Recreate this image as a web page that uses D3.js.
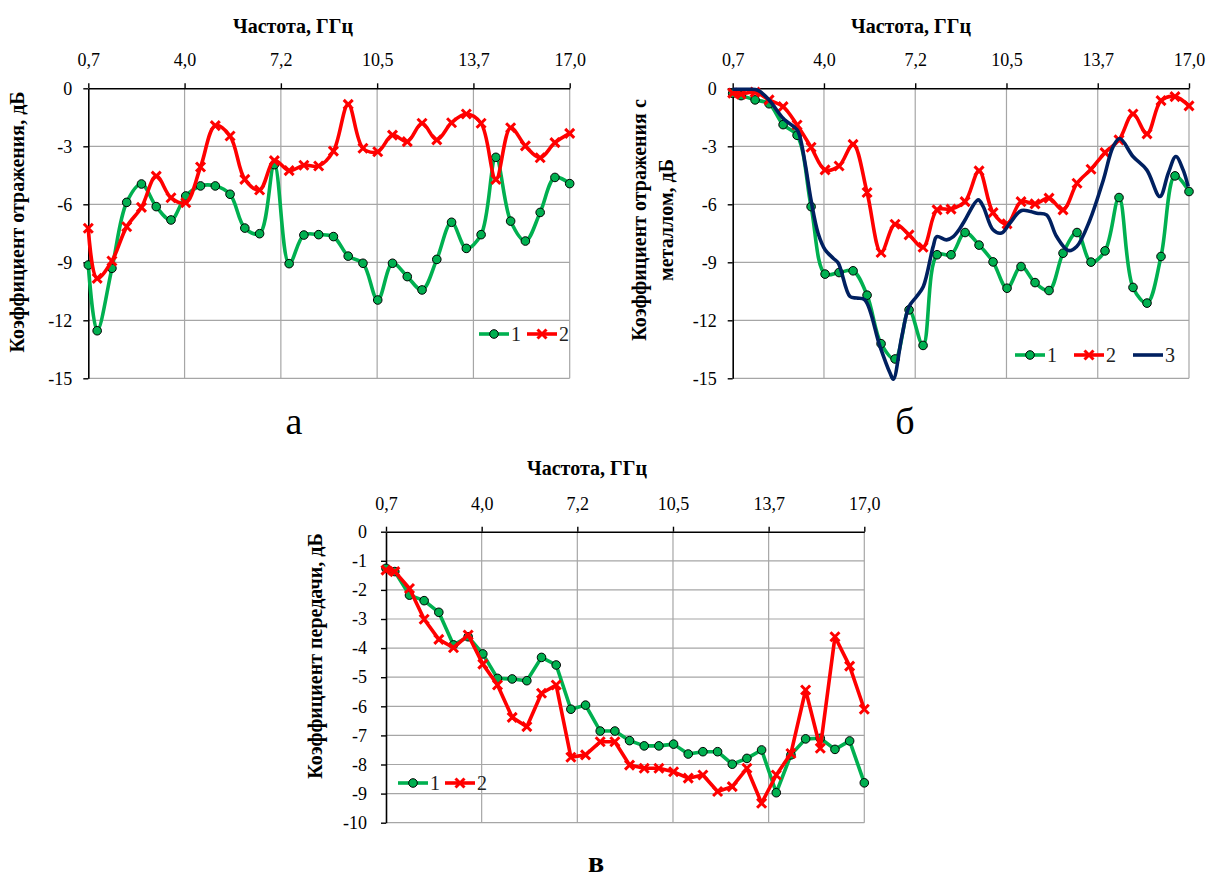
<!DOCTYPE html>
<html><head><meta charset="utf-8">
<script src="https://cdn.jsdelivr.net/npm/d3@7"></script>
<style>
html,body{margin:0;padding:0;background:#fff;}
svg text{font-family:"Liberation Serif","Tinos","DejaVu Serif","Noto Serif","Times New Roman",serif;fill:#000;}
</style></head>
<body><svg id="c" width="1209" height="879"></svg>
<script>
// ---- data ----
const xTickValues = [0.7, 3.96, 7.22, 10.48, 13.74, 17.0];
const xTitle = "Частота, ГГц";
const freq = [0.7,1.0,1.5,2.0,2.5,3.0,3.5,4.0,4.5,5.0,5.5,6.0,6.5,7.0,7.5,8.0,8.5,9.0,9.5,10.0,10.5,11.0,11.5,12.0,12.5,13.0,13.5,14.0,14.5,15.0,15.5,16.0,16.5,17.0];

// panel а
const a1 = [-9.14,-12.54,-9.31,-5.90,-4.95,-6.12,-6.81,-5.57,-5.05,-5.05,-5.48,-7.23,-7.52,-3.95,-9.07,-7.59,-7.57,-7.67,
            -8.68,-9.05,-10.95,-9.05,-9.74,-10.43,-8.85,-6.93,-8.28,-7.57,-3.57,-6.87,-7.90,-6.42,-4.61,-4.93];
const a2 = [-7.24,-9.83,-8.93,-7.16,-6.16,-4.54,-5.66,-5.92,-4.07,-1.93,-2.47,-4.71,-5.26,-3.74,-4.26,-3.98,-4.02,-3.25,
            -0.83,-3.10,-3.28,-2.42,-2.76,-1.81,-2.67,-1.78,-1.33,-1.81,-4.71,-2.04,-2.98,-3.59,-2.81,-2.33];
const aYTicks = [0,-3,-6,-9,-12,-15];

// panel б
const b1 = [-0.26,-0.38,-0.60,-0.80,-1.88,-2.43,-6.12,-9.61,-9.53,-9.44,-10.70,-13.21,-14.0,-11.46,-13.30,-8.61,-8.61,
            -7.46,-8.11,-8.98,-10.34,-9.22,-10.05,-10.46,-8.53,-7.46,-8.99,-8.41,-5.65,-10.30,-11.11,-8.70,-4.53,-5.34];
const b2 = [-0.25,-0.30,-0.20,-0.60,-0.95,-1.90,-3.05,-4.22,-4.02,-2.90,-5.39,-8.49,-7.03,-7.58,-8.22,-6.29,-6.25,
            -5.86,-4.27,-6.43,-7.01,-5.86,-5.98,-5.68,-6.29,-4.91,-4.19,-3.33,-2.67,-1.33,-2.36,-0.64,-0.43,-0.91];
const b3freq = [0.7,1.0,1.3,1.6,2.0,2.5,3.0,3.1,3.3,3.5,3.75,4.0,4.29,4.47,4.89,5.13,5.42,5.96,6.32,6.44,6.74,7.0,7.27,7.51,7.86,7.99,8.34,8.58,8.82,
                9.0,9.47,9.65,10.0,10.3,10.6,11.02,11.56,11.91,12.27,12.69,12.99,13.46,13.94,14.29,14.53,15.0,15.49,15.96,16.26,16.53,16.79,16.97];
const b3 = [-0.05,-0.05,-0.05,-0.1,-0.6,-1.55,-2.15,-2.5,-4.0,-5.8,-7.5,-8.35,-8.79,-9.04,-10.77,-10.85,-10.94,-13.35,-14.73,-15.05,-12.84,-11.29,-10.77,-10.25,-8.19,-7.67,-7.84,-7.67,-7.24,
            -6.81,-5.77,-6.12,-7.32,-7.49,-6.98,-6.32,-6.46,-6.55,-7.67,-8.39,-8.18,-6.81,-4.74,-3.02,-2.60,-3.53,-4.22,-5.60,-4.39,-3.53,-4.22,-5.08];
const bYTicks = [0,-3,-6,-9,-12,-15];

// panel в
const c1 = [-1.26,-1.37,-2.18,-2.37,-2.77,-3.89,-3.61,-4.20,-5.04,-5.06,-5.12,-4.32,-4.58,-6.10,-5.96,-6.85,-6.85,-7.18,
            -7.36,-7.36,-7.30,-7.64,-7.56,-7.56,-7.99,-7.79,-7.50,-8.97,-7.67,-7.12,-7.10,-7.48,-7.19,-8.63];
const c2 = [-1.32,-1.37,-1.95,-3.01,-3.70,-3.99,-3.55,-4.55,-5.27,-6.38,-6.70,-5.55,-5.27,-7.75,-7.67,-7.22,-7.22,-8.02,
            -8.13,-8.13,-8.25,-8.47,-8.36,-8.93,-8.76,-8.13,-9.33,-8.36,-7.62,-5.44,-7.44,-3.61,-4.62,-6.10];
const cYTicks = [0,-1,-2,-3,-4,-5,-6,-7,-8,-9,-10];

const seriesNames = ["1","2","3"];
const panelLabels = ["а","б","в"];
const yTitleA = ["Коэффициент отражения, дБ"];
const yTitleB = ["Коэффициент отражения с","металлом, дБ"];
const yTitleC = ["Коэффициент передачи, дБ"];

// ---- styles ----
const GREEN = "#00B050", RED = "#FF0000", BLUE = "#002060", GRID = "#A6A6A6";
const svg = d3.select("#c");
const fmt = d => d.toFixed(1).replace(".", ",");

function drawPanel(cfg) {
  const g = svg.append("g");
  const x = d3.scaleLinear().domain([0.7, 17.0]).range([cfg.left, cfg.right]);
  const y = d3.scaleLinear().domain([cfg.yTicks[cfg.yTicks.length-1], 0]).range([cfg.bottom, cfg.top]);

  // grid
  g.append("g").selectAll("line").data(cfg.yTicks.filter(v => v !== 0)).join("line")
    .attr("x1", cfg.left).attr("x2", cfg.right).attr("y1", d => y(d)).attr("y2", d => y(d))
    .attr("stroke", GRID).attr("stroke-width", 1.2);
  g.append("g").selectAll("line").data(xTickValues.slice(1)).join("line")
    .attr("x1", d => x(d)).attr("x2", d => x(d)).attr("y1", cfg.top).attr("y2", cfg.bottom)
    .attr("stroke", GRID).attr("stroke-width", 1.2);

  // axes
  const xAxis = d3.axisTop(x).tickValues(xTickValues).tickFormat(fmt).tickSizeInner(5).tickSizeOuter(0).tickPadding(17);
  const xg = g.append("g").attr("transform", `translate(0,${cfg.top})`).call(xAxis);
  const yAxis = d3.axisLeft(y).tickValues(cfg.yTicks).tickFormat(d => d === 0 ? "0" : "-" + Math.abs(d)).tickSizeInner(5).tickSizeOuter(0).tickPadding(cfg.yPad);
  const yg = g.append("g").attr("transform", `translate(${cfg.left},0)`).call(yAxis);
  [xg, yg].forEach(a => {
    a.attr("font-family", null);
    a.select(".domain").attr("stroke", "#000").attr("stroke-width", 1.6);
    a.selectAll(".tick line").attr("stroke", "#000").attr("stroke-width", 1.4);
    a.selectAll(".tick text").attr("font-size", 18).attr("fill", "#404040");
  });

  // x title
  g.append("text").attr("x", cfg.titleX).attr("y", cfg.titleY).attr("text-anchor", "middle")
    .attr("font-size", 20).attr("font-weight", "bold").text(xTitle);
  // y title
  cfg.yTitle.forEach((t, i) => {
    g.append("text").attr("transform", `translate(${cfg.yTitleX + i*27},${cfg.yTitleY}) rotate(-90)`)
      .attr("text-anchor", "middle").attr("font-size", 20).attr("font-weight", "bold").text(t);
  });

  // series
  cfg.series.forEach(s => {
    const pts = s.xs.map((f, i) => [x(f), y(s.ys[i])]);
    g.append("path").attr("d", d3.line().curve(cfg.curve)(pts))
      .attr("fill", "none").attr("stroke", s.color).attr("stroke-width", 3.6).attr("stroke-linejoin", "round");
    if (s.marker === "circle") {
      g.append("g").selectAll("circle").data(pts).join("circle")
        .attr("cx", d => d[0]).attr("cy", d => d[1]).attr("r", 4.3)
        .attr("fill", GREEN).attr("stroke", "#000").attr("stroke-width", 1);
    } else if (s.marker === "x") {
      g.append("g").selectAll("path").data(pts).join("path")
        .attr("d", d => `M${d[0]-4.5},${d[1]-4.5}L${d[0]+4.5},${d[1]+4.5}M${d[0]-4.5},${d[1]+4.5}L${d[0]+4.5},${d[1]-4.5}`)
        .attr("stroke", RED).attr("stroke-width", 3);
    }
  });

  // legend
  let lx = cfg.legendX;
  cfg.series.forEach(s => {
    const ly = cfg.legendY;
    g.append("line").attr("x1", lx).attr("x2", lx + 30).attr("y1", ly).attr("y2", ly)
      .attr("stroke", s.color).attr("stroke-width", 3.6);
    const cx = lx + 15;
    if (s.marker === "circle") {
      g.append("circle").attr("cx", cx).attr("cy", ly).attr("r", 4.3).attr("fill", GREEN).attr("stroke", "#000");
    } else if (s.marker === "x") {
      g.append("path").attr("d", `M${cx-4.5},${ly-4.5}L${cx+4.5},${ly+4.5}M${cx-4.5},${ly+4.5}L${cx+4.5},${ly-4.5}`)
        .attr("stroke", RED).attr("stroke-width", 3);
    }
    g.append("text").attr("x", lx + 32).attr("y", ly + 7).attr("font-size", 20).style("fill", "#222").text(s.name);
    lx += cfg.legendStep;
  });

  // panel label
  g.append("text").attr("x", cfg.labelX).attr("y", cfg.labelY).attr("text-anchor", "middle")
    .attr("font-size", cfg.labelSize).attr("font-weight", cfg.labelWeight).text(cfg.label);
}

const smooth = d3.curveCatmullRom.alpha(0.5);

drawPanel({
  left: 88.3, right: 569.7, top: 88.3, bottom: 378.3, yTicks: aYTicks, yPad: 11,
  titleX: 293, titleY: 33, yTitle: yTitleA, yTitleX: 24, yTitleY: 222,
  curve: smooth,
  series: [
    {name: seriesNames[0], xs: freq, ys: a1, color: GREEN, marker: "circle"},
    {name: seriesNames[1], xs: freq, ys: a2, color: RED, marker: "x"}
  ],
  legendX: 479, legendY: 334, legendStep: 48,
  label: panelLabels[0], labelX: 294, labelY: 434, labelSize: 38, labelWeight: "normal"
});

drawPanel({
  left: 732.7, right: 1189, top: 88.3, bottom: 378.3, yTicks: bYTicks, yPad: 11,
  titleX: 911, titleY: 33, yTitle: yTitleB, yTitleX: 646, yTitleY: 220,
  curve: smooth,
  series: [
    {name: seriesNames[0], xs: freq, ys: b1, color: GREEN, marker: "circle"},
    {name: seriesNames[1], xs: freq, ys: b2, color: RED, marker: "x"},
    {name: seriesNames[2], xs: b3freq, ys: b3, color: BLUE, marker: "none"}
  ],
  legendX: 1015, legendY: 355, legendStep: 59,
  label: panelLabels[1], labelX: 905, labelY: 434, labelSize: 38, labelWeight: "normal"
});

drawPanel({
  left: 386, right: 864.3, top: 531.7, bottom: 822.7, yTicks: cYTicks, yPad: 14,
  titleX: 587, titleY: 475, yTitle: yTitleC, yTitleX: 322, yTitleY: 656,
  curve: d3.curveLinear,
  series: [
    {name: seriesNames[0], xs: freq, ys: c1, color: GREEN, marker: "circle"},
    {name: seriesNames[1], xs: freq, ys: c2, color: RED, marker: "x"}
  ],
  legendX: 398, legendY: 783, legendStep: 47,
  label: panelLabels[2], labelX: 596, labelY: 872, labelSize: 30, labelWeight: "bold"
});
</script></body></html>
